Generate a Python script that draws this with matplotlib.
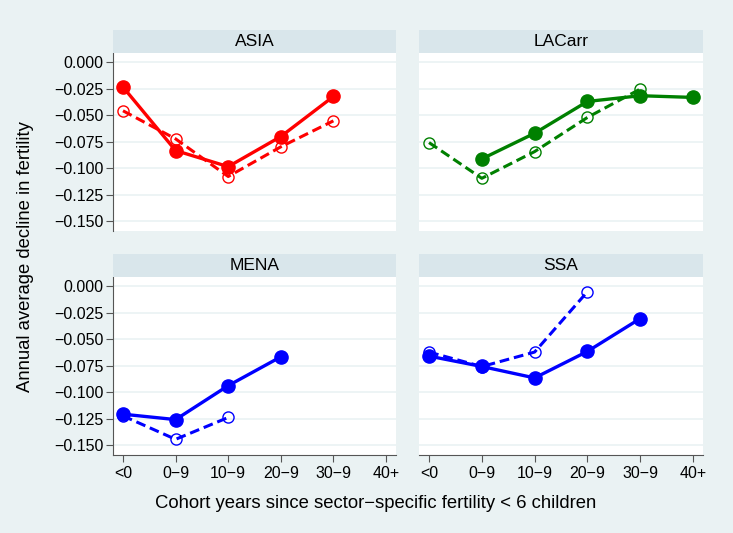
import matplotlib.pyplot as plt
import numpy as np

plt.rcParams['font.family'] = ['Liberation Sans', 'DejaVu Sans']

# cohort groups
cohorts = ["<0", "0\u22129", "10\u22129", "20\u22129", "30\u22129", "40+"]

# solid line = filled circles, dashed line = hollow circles (nan = not shown)
asia_solid = [-0.0236, -0.0835, -0.0987, -0.0703, -0.0325, np.nan]
asia_dash = [-0.0460, -0.0725, -0.1080, -0.0800, -0.0555, np.nan]
lac_solid = [np.nan, -0.0914, -0.0672, -0.0372, -0.0318, -0.0334]
lac_dash = [-0.0760, -0.1097, -0.0845, -0.0523, -0.0255, np.nan]
mena_solid = [-0.1209, -0.1260, -0.0940, -0.0668, np.nan, np.nan]
mena_dash = [-0.1225, -0.1446, -0.1240, np.nan, np.nan, np.nan]
ssa_solid = [-0.0661, -0.0759, -0.0867, -0.0617, -0.0307, np.nan]
ssa_dash = [-0.0623, -0.0760, -0.0623, -0.0054, np.nan, np.nan]

regions = ["ASIA", "LACarr", "MENA", "SSA"]
colors = ["#ff0000", "#008000", "#0000ff", "#0000ff"]
solids = [asia_solid, lac_solid, mena_solid, ssa_solid]
dashes = [asia_dash, lac_dash, mena_dash, ssa_dash]

yticks = [0.0, -0.025, -0.05, -0.075, -0.1, -0.125, -0.15]

bg = "#eaf2f3"
stripc = "#d9e6eb"

W, H = 733, 533
fig = plt.figure(figsize=(W / 100, H / 100), dpi=100, facecolor=bg)

# panel boxes in pixels: left, top of plot area, right, bottom
boxes = [(113, 53, 396, 231), (419, 53, 703, 231),
         (113, 277, 396, 455), (419, 277, 703, 455)]

x = np.arange(len(cohorts))
for i in range(4):
    l, t, r, b = boxes[i]
    ax = fig.add_axes([l / W, (H - b) / H, (r - l) / W, (b - t) / H])
    ax.set_facecolor("white")
    for yy in yticks:
        ax.axhline(yy, color=bg, lw=1.2, zorder=0)
    ax.plot(x, dashes[i], color=colors[i], lw=2.2, ls=(0, (3.2, 1.6)),
            marker="o", ms=8, mfc="none", mew=1.0, zorder=2)
    ax.plot(x, solids[i], color=colors[i], lw=2.4, marker="o", ms=9.5, zorder=3)
    ax.set_xlim(-0.19, 5.19)
    ax.set_ylim(-0.1594, 0.0085)
    for s in ax.spines.values():
        s.set_visible(False)
    col = i % 2
    row = i // 2
    if col == 0:
        ax.spines["left"].set_visible(True)
        ax.spines["left"].set_color("#555555")
        ax.set_yticks(yticks)
        ax.set_yticklabels([("%.3f" % v).replace("-", "\u2212") for v in yticks], fontsize=11.5)
        ax.tick_params(axis="y", length=5, color="#555555", pad=2)
    else:
        ax.set_yticks([])
    if row == 1:
        ax.spines["bottom"].set_visible(True)
        ax.spines["bottom"].set_color("#555555")
        ax.set_xticks(x)
        ax.set_xticklabels(cohorts, fontsize=11.5)
        ax.tick_params(axis="x", length=5, color="#555555", pad=3)
    else:
        ax.set_xticks([])
    # strip with region name
    sa = fig.add_axes([l / W, (H - t) / H, (r - l) / W, 23 / H])
    sa.set_facecolor(stripc)
    sa.set_xticks([])
    sa.set_yticks([])
    for s in sa.spines.values():
        s.set_visible(False)
    sa.text(0.5, 0.5, regions[i], ha="center", va="center", fontsize=12.5)

fig.text(26 / W, 1 - 257 / H, "Annual average decline in fertility", rotation=90,
         ha="center", va="center", fontsize=13.3)
fig.text(376 / W, 1 - 503 / H, "Cohort years since sector\u2212specific fertility < 6 children",
         ha="center", va="center", fontsize=13.3)

fig.savefig("out.png", dpi=100, facecolor=bg)
